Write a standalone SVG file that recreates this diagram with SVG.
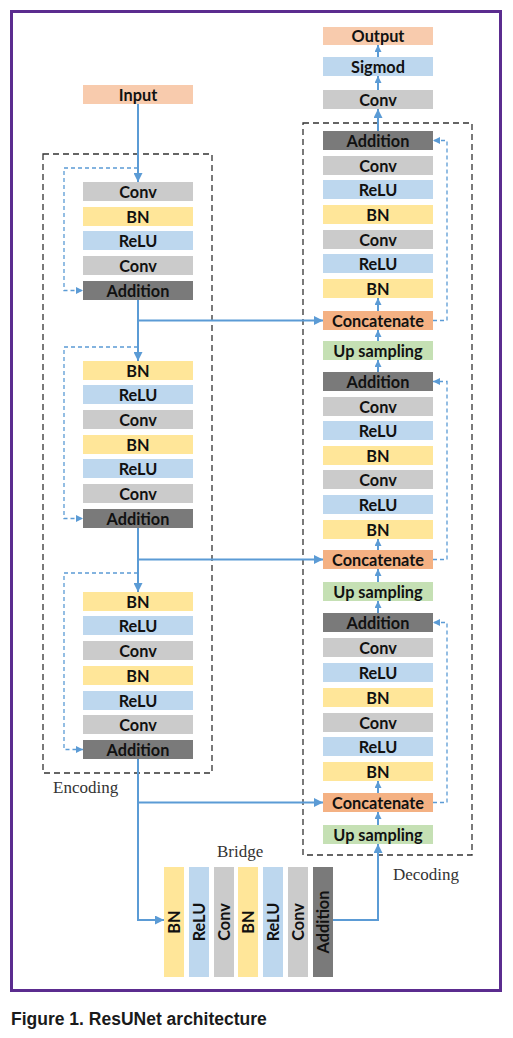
<svg xmlns="http://www.w3.org/2000/svg" width="513" height="1038" viewBox="0 0 513 1038">
<style>
.b{stroke:none}
.conv{fill:#CBCBCB}.bn{fill:#FFE699}.relu{fill:#BDD7EE}.add{fill:#7A7A7A}.io{fill:#F8CBAD}.cat{fill:#F4B183}.up{fill:#C5E0B4}
.t{font-family:Lato,"Open Sans",sans-serif;font-weight:bold;font-size:16.3px;fill:#111;text-anchor:middle}
.lbl{font-family:"Liberation Serif",serif;font-size:17px;fill:#333}
.c{fill:none;stroke:#5B9BD5;stroke-width:2}
.d{fill:none;stroke:#5B9BD5;stroke-width:1.3;stroke-dasharray:4 3}
.box{fill:none;stroke:#333;stroke-width:1.3;stroke-dasharray:6 4}
</style>
<defs>
<marker id="ah" viewBox="0 0 10 10" refX="10" refY="5" markerWidth="9" markerHeight="9" markerUnits="userSpaceOnUse" orient="auto"><path d="M0,0 L10,5 L0,10 z" fill="#5B9BD5"/></marker>
<marker id="ahs" viewBox="0 0 10 10" refX="10" refY="5" markerWidth="7" markerHeight="7" markerUnits="userSpaceOnUse" orient="auto"><path d="M0,0 L10,5 L0,10 z" fill="#5B9BD5"/></marker>
</defs>
<rect x="0" y="0" width="513" height="1038" fill="#fff"/>
<rect x="11.5" y="11.5" width="489" height="979" fill="none" stroke="#5B2C8F" stroke-width="3"/>
<rect class="box" x="43" y="154" width="169" height="619"/>
<rect class="box" x="303" y="123" width="169" height="732"/>
<text class="lbl" x="53" y="793">Encoding</text>
<text class="lbl" x="393" y="880">Decoding</text>
<text class="lbl" x="217" y="857">Bridge</text>

<g id="input"><rect class="io" x="83" y="85" width="110" height="19"/><text class="t" x="138" y="100.5">Input</text></g>

<g id="enc1">
<rect class="conv" x="83" y="182" width="110" height="19"/><text class="t" x="138" y="197.5">Conv</text>
<rect class="bn" x="83" y="207" width="110" height="19"/><text class="t" x="138" y="222.5">BN</text>
<rect class="relu" x="83" y="231" width="110" height="19"/><text class="t" x="138" y="246.5">ReLU</text>
<rect class="conv" x="83" y="256" width="110" height="19"/><text class="t" x="138" y="271.5">Conv</text>
<rect class="add" x="83" y="281" width="110" height="19"/><text class="t" x="138" y="296.5">Addition</text>
</g>
<g id="enc2">
<rect class="bn" x="83" y="361" width="110" height="19"/><text class="t" x="138" y="376.5">BN</text>
<rect class="relu" x="83" y="385" width="110" height="19"/><text class="t" x="138" y="400.5">ReLU</text>
<rect class="conv" x="83" y="410" width="110" height="19"/><text class="t" x="138" y="425.5">Conv</text>
<rect class="bn" x="83" y="435" width="110" height="19"/><text class="t" x="138" y="450.5">BN</text>
<rect class="relu" x="83" y="459" width="110" height="19"/><text class="t" x="138" y="474.5">ReLU</text>
<rect class="conv" x="83" y="484" width="110" height="19"/><text class="t" x="138" y="499.5">Conv</text>
<rect class="add" x="83" y="509" width="110" height="19"/><text class="t" x="138" y="524.5">Addition</text>
</g>
<g id="enc3">
<rect class="bn" x="83" y="592" width="110" height="19"/><text class="t" x="138" y="607.5">BN</text>
<rect class="relu" x="83" y="616" width="110" height="19"/><text class="t" x="138" y="631.5">ReLU</text>
<rect class="conv" x="83" y="641" width="110" height="19"/><text class="t" x="138" y="656.5">Conv</text>
<rect class="bn" x="83" y="666" width="110" height="19"/><text class="t" x="138" y="681.5">BN</text>
<rect class="relu" x="83" y="691" width="110" height="19"/><text class="t" x="138" y="706.5">ReLU</text>
<rect class="conv" x="83" y="715" width="110" height="19"/><text class="t" x="138" y="730.5">Conv</text>
<rect class="add" x="83" y="740" width="110" height="19"/><text class="t" x="138" y="755.5">Addition</text>
</g>

<g id="bridge">
<rect class="bn" x="164" y="867" width="20" height="110"/><text class="t" transform="translate(180 922) rotate(-90)">BN</text>
<rect class="relu" x="189" y="867" width="20" height="110"/><text class="t" transform="translate(205 922) rotate(-90)">ReLU</text>
<rect class="conv" x="214" y="867" width="20" height="110"/><text class="t" transform="translate(230 922) rotate(-90)">Conv</text>
<rect class="bn" x="238" y="867" width="20" height="110"/><text class="t" transform="translate(254 922) rotate(-90)">BN</text>
<rect class="relu" x="263" y="867" width="20" height="110"/><text class="t" transform="translate(279 922) rotate(-90)">ReLU</text>
<rect class="conv" x="288" y="867" width="20" height="110"/><text class="t" transform="translate(304 922) rotate(-90)">Conv</text>
<rect class="add" x="313" y="867" width="20" height="110"/><text class="t" transform="translate(329 922) rotate(-90)">Addition</text>
</g>

<g id="dec3">
<rect class="up" x="323" y="825" width="110" height="19"/><text class="t" x="378" y="840.5">Up sampling</text>
<rect class="cat" x="323" y="793" width="110" height="19"/><text class="t" x="378" y="808.5">Concatenate</text>
<rect class="bn" x="323" y="762" width="110" height="19"/><text class="t" x="378" y="777.5">BN</text>
<rect class="relu" x="323" y="737" width="110" height="19"/><text class="t" x="378" y="752.5">ReLU</text>
<rect class="conv" x="323" y="713" width="110" height="19"/><text class="t" x="378" y="728.5">Conv</text>
<rect class="bn" x="323" y="688" width="110" height="19"/><text class="t" x="378" y="703.5">BN</text>
<rect class="relu" x="323" y="663" width="110" height="19"/><text class="t" x="378" y="678.5">ReLU</text>
<rect class="conv" x="323" y="638" width="110" height="19"/><text class="t" x="378" y="653.5">Conv</text>
<rect class="add" x="323" y="613" width="110" height="19"/><text class="t" x="378" y="628.5">Addition</text>
</g>
<g id="dec2">
<rect class="up" x="323" y="582" width="110" height="19"/><text class="t" x="378" y="597.5">Up sampling</text>
<rect class="cat" x="323" y="550" width="110" height="19"/><text class="t" x="378" y="565.5">Concatenate</text>
<rect class="bn" x="323" y="520" width="110" height="19"/><text class="t" x="378" y="535.5">BN</text>
<rect class="relu" x="323" y="495" width="110" height="19"/><text class="t" x="378" y="510.5">ReLU</text>
<rect class="conv" x="323" y="470" width="110" height="19"/><text class="t" x="378" y="485.5">Conv</text>
<rect class="bn" x="323" y="446" width="110" height="19"/><text class="t" x="378" y="461.5">BN</text>
<rect class="relu" x="323" y="421" width="110" height="19"/><text class="t" x="378" y="436.5">ReLU</text>
<rect class="conv" x="323" y="397" width="110" height="19"/><text class="t" x="378" y="412.5">Conv</text>
<rect class="add" x="323" y="372" width="110" height="19"/><text class="t" x="378" y="387.5">Addition</text>
</g>
<g id="dec1">
<rect class="up" x="323" y="341" width="110" height="19"/><text class="t" x="378" y="356.5">Up sampling</text>
<rect class="cat" x="323" y="311" width="110" height="19"/><text class="t" x="378" y="326.5">Concatenate</text>
<rect class="bn" x="323" y="279" width="110" height="19"/><text class="t" x="378" y="294.5">BN</text>
<rect class="relu" x="323" y="254" width="110" height="19"/><text class="t" x="378" y="269.5">ReLU</text>
<rect class="conv" x="323" y="230" width="110" height="19"/><text class="t" x="378" y="245.5">Conv</text>
<rect class="bn" x="323" y="205" width="110" height="19"/><text class="t" x="378" y="220.5">BN</text>
<rect class="relu" x="323" y="180" width="110" height="19"/><text class="t" x="378" y="195.5">ReLU</text>
<rect class="conv" x="323" y="156" width="110" height="19"/><text class="t" x="378" y="171.5">Conv</text>
<rect class="add" x="323" y="131" width="110" height="19"/><text class="t" x="378" y="146.5">Addition</text>
</g>
<g id="head">
<rect class="conv" x="323" y="90" width="110" height="19"/><text class="t" x="378" y="105.5">Conv</text>
<rect class="relu" x="323" y="57" width="110" height="19"/><text class="t" x="378" y="72.5">Sigmod</text>
<rect class="io" x="323" y="27" width="110" height="18"/><text class="t" x="378" y="42">Output</text>
</g>

<g id="connectors">
<path class="c" d="M138,104 V182" marker-end="url(#ah)"/>
<path class="d" d="M138,168 H64 V290.5 H83" marker-end="url(#ahs)"/>
<path class="c" d="M138,300 V361" marker-end="url(#ah)"/>
<path class="c" d="M138,320.5 H323" marker-end="url(#ah)"/>
<path class="d" d="M138,347 H64 V518.5 H83" marker-end="url(#ahs)"/>
<path class="c" d="M138,528 V592" marker-end="url(#ah)"/>
<path class="c" d="M138,559.5 H323" marker-end="url(#ah)"/>
<path class="d" d="M138,573 H64 V749.5 H83" marker-end="url(#ahs)"/>
<path class="c" d="M138,759 V920 H164" marker-end="url(#ah)"/>
<path class="c" d="M138,802.5 H323" marker-end="url(#ah)"/>
<path class="c" d="M333,920 H378 V844" marker-end="url(#ah)"/>
<path class="c" d="M378,825 V812" marker-end="url(#ahs)"/>
<path class="c" d="M378,793 V781" marker-end="url(#ahs)"/>
<path class="c" d="M378,613 V601" marker-end="url(#ahs)"/>
<path class="c" d="M378,582 V569" marker-end="url(#ahs)"/>
<path class="c" d="M378,550 V539" marker-end="url(#ahs)"/>
<path class="c" d="M378,372 V360" marker-end="url(#ahs)"/>
<path class="c" d="M378,341 V330" marker-end="url(#ahs)"/>
<path class="c" d="M378,311 V298" marker-end="url(#ahs)"/>
<path class="c" d="M378,131 V109" marker-end="url(#ah)"/>
<path class="c" d="M378,90 V76" marker-end="url(#ahs)"/>
<path class="c" d="M378,57 V45" marker-end="url(#ahs)"/>
<path class="d" d="M433,320.5 H447 V140.5 H433" marker-end="url(#ahs)"/>
<path class="d" d="M433,559.5 H447 V381.5 H433" marker-end="url(#ahs)"/>
<path class="d" d="M433,802.5 H447 V622.5 H433" marker-end="url(#ahs)"/>
</g>
<text x="11" y="1025" font-family="'Liberation Sans',Arial,sans-serif" font-weight="bold" font-size="17.5" fill="#1a1a1a">Figure 1. ResUNet architecture</text>
</svg>
